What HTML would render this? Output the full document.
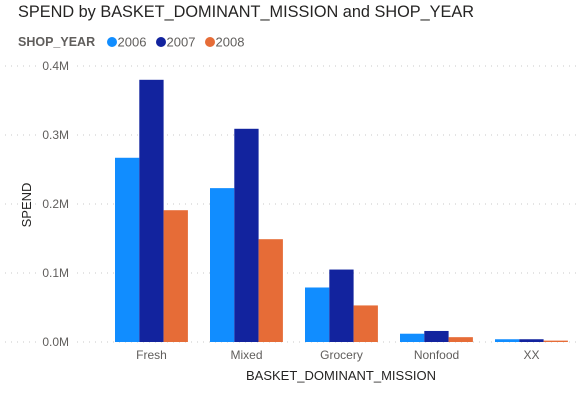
<!DOCTYPE html>
<html><head><meta charset="utf-8"><style>
body{margin:0;background:#fff;width:583px;height:402px;overflow:hidden;font-family:"Liberation Sans",sans-serif}
</style></head><body>
<svg width="583" height="402" xmlns="http://www.w3.org/2000/svg">
<text x="18" y="17" font-size="16.3" fill="#252423">SPEND by BASKET_DOMINANT_MISSION and SHOP_YEAR</text>
<g id="legend"></g>
<g id="grid"></g>
<g id="bars"></g>
<g id="xl"></g>
<text x="0" y="0" transform="translate(31,205) rotate(-90)" text-anchor="middle" font-size="13" fill="#252423">SPEND</text>
<text x="341" y="380" text-anchor="middle" font-size="13" fill="#252423">BASKET_DOMINANT_MISSION</text>
</svg>
<script>
const categories=["Fresh","Mixed","Grocery","Nonfood","XX"];
const years=["2006","2007","2008"];
const s2006=[0.267,0.223,0.079,0.012,0.004];
const s2007=[0.380,0.309,0.105,0.016,0.004];
const s2008=[0.191,0.149,0.053,0.007,0.002];
const yTicks=[0,0.1,0.2,0.3,0.4];
const yTickLabels=["0.0M","0.1M","0.2M","0.3M","0.4M"];
const colors=["#118DFF","#12239E","#E66C37"];
const NS="http://www.w3.org/2000/svg";
function mk(t,a,p){const e=document.createElementNS(NS,t);for(const k in a)e.setAttribute(k,a[k]);p.appendChild(e);return e;}
const y=v=>342-v*690;
const x0=104,step=95,bw=24.3;
const bx=(i,s)=>x0+step*i+11+s*bw;
const grid=document.getElementById('grid');
yTicks.forEach((t,i)=>{
 const l=mk('line',{x1:5,x2:578,y1:y(t),y2:y(t),stroke:'#c8c8c8','stroke-dasharray':'1 5','stroke-width':1},grid);
 
 
 const bg=mk('rect',{x:36,y:y(t)-8,width:36,height:16,fill:'#fff'},grid);
 const tx=mk('text',{x:69,y:y(t)+4,'text-anchor':'end','font-size':'12',fill:'#605E5C'},grid);
 tx.textContent=yTickLabels[i];
 
 
});
const bars=document.getElementById('bars');
[s2006,s2007,s2008].forEach((ser,s)=>{
 ser.forEach((v,i)=>{
  const r=mk('rect',{x:bx(i,s),y:y(v),width:bw,height:342-y(v),fill:colors[s]},bars);
  
  
 });
});
const xl=document.getElementById('xl');
categories.forEach((c,i)=>{
 const t=mk('text',{x:x0+step*i+47.5,y:359,'text-anchor':'middle','font-size':'12',fill:'#605E5C'},xl);
 t.textContent=c;
 
 
});
const lg=document.getElementById('legend');
const lt=mk('text',{x:18,y:46,'font-size':'12.5','font-weight':'bold',fill:'#605E5C'},lg);
lt.textContent="SHOP_YEAR";


const lx=[112,161,210];
years.forEach((yr,i)=>{
 const g=mk('g',{},lg);
 
 
 mk('circle',{cx:lx[i],cy:42,r:5,fill:colors[i]},g);
 const t=mk('text',{x:lx[i]+5.5,y:46.5,'font-size':'13',fill:'#605E5C'},g);
 t.textContent=yr;
});
</script>
</body></html>
